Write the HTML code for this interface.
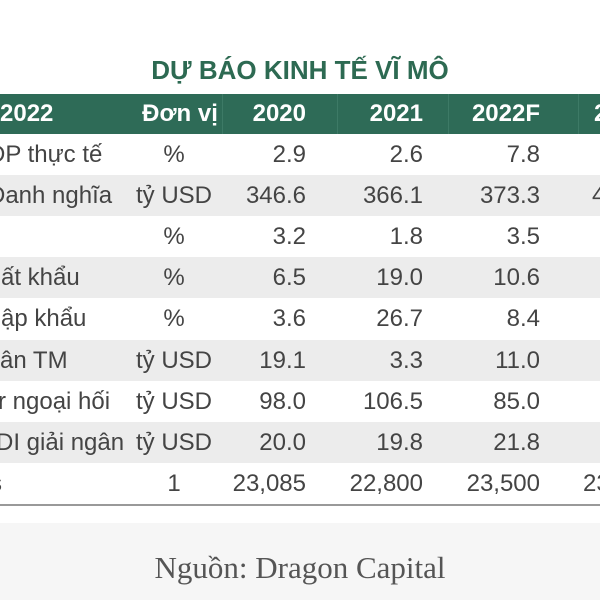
<!DOCTYPE html>
<html><head><meta charset="utf-8"><style>
body{margin:0;width:600px;height:600px;overflow:hidden;background:#fff;position:relative;font-family:"Liberation Sans",sans-serif;}
#wrap{position:absolute;left:0;top:0;width:600px;height:600px;overflow:hidden;}
.title{position:absolute;top:55px;left:0;width:600px;text-align:center;font-weight:bold;font-size:26px;color:#2d6a52;}
.hdr{position:absolute;top:94px;left:0;width:600px;height:40px;background:#2e6b57;overflow:hidden;}
.row{position:absolute;left:0;width:600px;height:41px;overflow:hidden;}
.row.g{background:#ececec;}
.c{position:absolute;top:0;line-height:41px;font-size:24px;color:#444;white-space:nowrap;}
.hdr .c{line-height:40px;color:#fff;font-weight:bold;font-size:24px;}
.sep{position:absolute;top:0;width:1px;height:40px;background:#3d7a66;}
.bl{position:absolute;top:504px;left:0;width:600px;height:2px;background:#999;}
.src{position:absolute;top:523px;left:0;width:600px;height:77px;background:#f6f6f6;text-align:center;font-family:"Liberation Serif",serif;font-size:31px;line-height:90px;color:#555;}
</style></head><body><div id="wrap">
<div class="title">DỰ BÁO KINH TẾ VĨ MÔ</div>
<div class="hdr">
<span class="c" style="left:0px">2022</span>
<span class="c" style="left:180px;transform:translateX(-50%)">Đơn vị</span>
<span class="c" style="right:294px">2020</span>
<span class="c" style="right:177px">2021</span>
<span class="c" style="right:60px">2022F</span>
<span class="c" style="left:594px">2</span>
<div class="sep" style="left:222px"></div><div class="sep" style="left:337px"></div><div class="sep" style="left:448px"></div><div class="sep" style="left:578px"></div>
</div>
<div id="rows"></div>
<div class="bl"></div>
<div class="src">Nguồn: Dragon Capital</div>
</div>
<script>
const labels=["DP thực tế","Danh nghĩa","","ất khẩu","ập khẩu","ân TM","r ngoại hối","DI giải ngân","s"];
const labelX=[-12,-12,0,1,1,0,-2,-4,-10];
const units=["%","tỷ USD","%","%","%","tỷ USD","tỷ USD","tỷ USD","1"];
const v2020=["2.9","346.6","3.2","6.5","3.6","19.1","98.0","20.0","23,085"];
const v2021=["2.6","366.1","1.8","19.0","26.7","3.3","106.5","19.8","22,800"];
const v2022=["7.8","373.3","3.5","10.6","8.4","11.0","85.0","21.8","23,500"];
const v2023=["","4","","","","","","","23"];
const host=document.getElementById('rows');
labels.forEach((l,i)=>{
 const r=document.createElement('div');
 r.className='row'+(i%2?' g':'');
 r.style.top=(134+i*41.1)+'px';
 
 
 const cells=[[l,'left:'+labelX[i]+'px'],[units[i],'left:174px;transform:translateX(-50%)'],
  [v2020[i],'right:294px'],[v2021[i],'right:177px'],[v2022[i],'right:60px'],[v2023[i],'left:'+(i==8?583:592)+'px']];
 const names=['row-label','unit','value-2020','value-2021','value-2022f','value-2023f'];
 cells.forEach((c,j)=>{
  const s=document.createElement('span');
  s.className='c';s.style.cssText=c[1];s.textContent=c[0];
  
  
  r.appendChild(s);
 });
 host.appendChild(r);
});
</script>
</body></html>
